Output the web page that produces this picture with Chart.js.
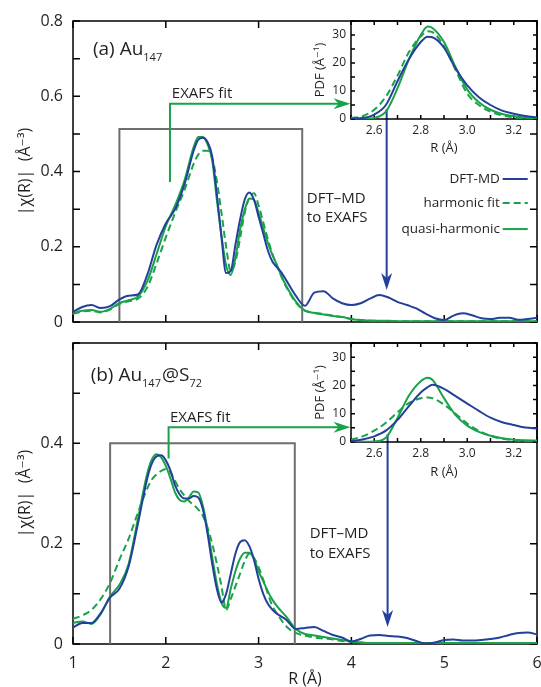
<!DOCTYPE html>
<html>
<head>
<meta charset="utf-8">
<script src="https://cdn.jsdelivr.net/npm/chart.js@4"></script>
<style>
  html, body { margin: 0; padding: 0; background: #fff; }
  #wrap { position: relative; width: 541px; height: 687px; overflow: hidden; background: #fff; }
  canvas { position: absolute; }
</style>
</head>
<body>
<div id="wrap">
  <canvas id="mainA" width="541" height="330" style="left:0;top:0"></canvas>
  <canvas id="insetA" width="236" height="150" style="left:305px;top:10px"></canvas>
  <canvas id="mainB" width="541" height="357" style="left:0;top:330px"></canvas>
  <canvas id="insetB" width="236" height="150" style="left:305px;top:332px"></canvas>
</div>
<script>
// --- data ---
// panel (a) Au147, |chi(R)|
const rA = [1.0,1.1,1.2,1.3,1.4,1.5,1.6,1.7,1.8,1.9,2.0,2.1,2.2,2.3,2.35,2.4,2.45,2.5,2.55,2.6,
  2.65,2.7,2.75,2.8,2.85,2.9,2.95,3.0,3.05,3.1,3.15,3.2,3.25,3.3,3.4,3.5,3.6,3.7,3.8,3.9,
  4.0,4.1,4.2,4.3,4.4,4.5,4.6,4.7,4.8,4.9,5.0,5.1,5.2,5.3,5.4,5.5,5.6,5.7,5.8,5.9,6.0];
const dftA = [0.027,0.040,0.045,0.037,0.042,0.060,0.070,0.073,0.125,0.205,0.262,0.300,0.365,0.455,0.485,0.490,0.478,0.440,0.340,0.225,
  0.130,0.135,0.205,0.272,0.325,0.344,0.325,0.280,0.235,0.190,0.160,0.145,0.130,0.110,0.070,0.043,0.078,0.082,0.063,0.050,
  0.045,0.050,0.062,0.072,0.065,0.053,0.045,0.036,0.022,0.010,0.005,0.017,0.023,0.018,0.010,0.008,0.011,0.011,0.006,0.008,0.011];
const harmA = [0.022,0.028,0.030,0.025,0.033,0.048,0.055,0.062,0.092,0.155,0.225,0.290,0.350,0.420,0.445,0.455,0.455,0.435,0.375,0.290,
  0.200,0.135,0.160,0.222,0.290,0.330,0.342,0.310,0.265,0.220,0.180,0.148,0.118,0.092,0.052,0.030,0.025,0.021,0.017,0.013,
  0.008,0.005,0.003,0.003,0.002,0.002,0.002,0.002,0.002,0.002,0.002,0.002,0.002,0.002,0.002,0.002,0.002,0.002,0.002,0.002,0.002];
const quasiA = [0.023,0.030,0.032,0.027,0.035,0.050,0.058,0.068,0.108,0.180,0.255,0.310,0.375,0.465,0.492,0.492,0.472,0.430,0.325,0.230,
  0.150,0.125,0.170,0.245,0.298,0.328,0.325,0.290,0.250,0.210,0.178,0.150,0.120,0.095,0.055,0.030,0.024,0.020,0.016,0.013,
  0.008,0.005,0.004,0.003,0.003,0.002,0.002,0.002,0.002,0.002,0.002,0.002,0.002,0.002,0.002,0.002,0.002,0.002,0.002,0.002,0.002];

// panel (b) Au147@S72, |chi(R)|
const rB = [1.0,1.1,1.2,1.3,1.4,1.5,1.6,1.7,1.8,1.85,1.9,1.95,2.0,2.05,2.1,2.15,2.2,2.25,2.3,2.35,
  2.4,2.45,2.5,2.55,2.6,2.65,2.7,2.75,2.8,2.85,2.9,2.95,3.0,3.05,3.1,3.15,3.2,3.3,3.4,3.5,
  3.6,3.7,3.8,3.9,4.0,4.1,4.2,4.3,4.4,4.5,4.6,4.7,4.8,4.9,5.0,5.1,5.2,5.3,5.4,5.5,5.6,5.7,5.8,5.9,6.0];
const dftB = [0.033,0.042,0.042,0.062,0.093,0.110,0.155,0.240,0.330,0.360,0.374,0.376,0.366,0.346,0.316,0.298,0.290,0.290,0.295,0.292,
  0.268,0.220,0.160,0.110,0.083,0.100,0.140,0.180,0.203,0.207,0.195,0.168,0.130,0.100,0.080,0.068,0.060,0.048,0.030,0.032,
  0.034,0.026,0.018,0.013,0.005,0.010,0.017,0.018,0.016,0.015,0.012,0.006,0.001,0.003,0.008,0.009,0.007,0.007,0.008,0.010,
  0.013,0.018,0.022,0.023,0.019];
const harmB = [0.050,0.057,0.068,0.090,0.122,0.168,0.210,0.262,0.310,0.328,0.338,0.345,0.349,0.342,0.325,0.308,0.296,0.285,0.277,0.268,
  0.255,0.232,0.200,0.160,0.115,0.068,0.090,0.115,0.140,0.165,0.180,0.172,0.153,0.128,0.100,0.075,0.060,0.035,0.022,0.017,
  0.013,0.011,0.009,0.006,0.004,0.003,0.002,0.002,0.002,0.002,0.002,0.002,0.002,0.002,0.002,0.002,0.002,0.002,0.002,0.002,
  0.002,0.002,0.002,0.002,0.002];
const quasiB = [0.042,0.045,0.040,0.060,0.095,0.118,0.160,0.250,0.340,0.368,0.378,0.372,0.355,0.330,0.302,0.287,0.284,0.292,0.304,0.302,
  0.275,0.228,0.173,0.120,0.082,0.072,0.110,0.145,0.170,0.182,0.182,0.170,0.145,0.125,0.105,0.088,0.075,0.054,0.030,0.020,
  0.017,0.014,0.011,0.008,0.005,0.003,0.002,0.002,0.002,0.002,0.002,0.002,0.002,0.002,0.002,0.002,0.002,0.002,0.002,0.002,
  0.002,0.002,0.002,0.002,0.002];

// insets: pair distribution functions
const rPdf = [2.5,2.55,2.6,2.65,2.7,2.75,2.8,2.83,2.85,2.9,2.95,3.0,3.05,3.1,3.15,3.2,3.25,3.3];
const pdfDftA = [0.1,0.35,1.6,5.0,13.5,21.5,27.5,29.4,29.2,25.5,18.0,12.0,7.8,5.0,3.0,1.9,1.1,0.6];
const pdfHarmA = [0.4,1.0,3.3,8.0,15.5,24.0,29.5,31.3,31.0,26.0,17.5,9.0,5.0,2.6,1.3,0.6,0.3,0.15];
const pdfQuasiA = [0.0,0.05,0.4,2.6,11.0,21.5,30.0,33.0,32.5,27.5,18.5,10.5,6.0,3.3,1.8,1.0,0.5,0.3];
const pdfDftB = [0.3,0.9,2.0,4.0,7.8,12.8,17.5,19.4,20.2,18.8,16.2,13.6,11.0,8.6,7.0,6.0,5.1,4.8];
const pdfHarmB = [0.8,2.0,4.0,6.8,10.5,13.8,15.5,15.7,15.5,13.2,10.0,6.5,4.0,2.2,1.2,0.6,0.3,0.15];
const pdfQuasiB = [0.0,0.05,0.2,1.5,8.5,16.5,21.5,22.7,22.0,15.5,9.5,5.8,3.6,2.2,1.3,0.8,0.6,0.5];

// tick labels shown on the inset R axis
const pdfXLabels = [2.6, 2.8, 3.0, 3.2];

const seriesNames = ['DFT-MD', 'harmonic fit', 'quasi-harmonic'];

const BLUE = '#23409a';
const GREEN = '#19a24a';
const GREY = '#6d6e71';
const INK = '#231f20';
const FONT = '"Open Sans", "DejaVu Sans", sans-serif';

const pts = (xs, ys) => xs.map((x, i) => ({ x, y: ys[i] }));

// inward ticks on all four sides + frame
const frameCfg = {
  mainA: { xStep: 1, yStep: 0.1, len: 7, skipTopFrom: 4, skipRightAbove: 0.54 },
  mainB: { xStep: 1, yStep: 0.1, len: 7, skipTopFrom: 4, skipRightAbove: 0.39 },
  insetA: { xStep: 0.1, yStep: 5, len: 4 },
  insetB: { xStep: 0.1, yStep: 5, len: 4 }
};

const framePlugin = {
  id: 'frame',
  beforeDatasetsDraw(chart) {
    const o = frameCfg[chart.canvas.id];
    const { ctx, chartArea: a, scales: { x, y } } = chart;
    ctx.save();
    ctx.strokeStyle = '#000';
    ctx.lineWidth = 1.5;
    ctx.beginPath();
    const nx = Math.round((x.max - x.min) / o.xStep);
    for (let i = 0; i <= nx; i++) {
      const v = x.min + i * o.xStep;
      const px = x.getPixelForValue(v);
      ctx.moveTo(px, a.bottom); ctx.lineTo(px, a.bottom - o.len);
      if (o.skipTopFrom === undefined || v < o.skipTopFrom - 1e-6) {
        ctx.moveTo(px, a.top); ctx.lineTo(px, a.top + o.len);
      }
    }
    const ny = Math.round((y.max - y.min) / o.yStep);
    for (let i = 0; i <= ny; i++) {
      const v = y.min + i * o.yStep;
      const py = y.getPixelForValue(v);
      ctx.moveTo(a.left, py); ctx.lineTo(a.left + o.len, py);
      if (o.skipRightAbove === undefined || v < o.skipRightAbove) {
        ctx.moveTo(a.right, py); ctx.lineTo(a.right - o.len, py);
      }
    }
    ctx.stroke();
    ctx.strokeRect(a.left, a.top, a.right - a.left, a.bottom - a.top);
    ctx.restore();
  }
};

// box, arrows, annotations, legend
const decorCfg = {
  mainA: {
    box: [1.5, 3.47, 0.513],
    fit: { x: 2.045, y0: 0.372, y1: 0.58, xEnd: 3.99 },
    fitText: { x: 2.065, y: 0.606 },
    md: { x: 4.38, y0: 0.566, y1: 0.085 },
    mdText: { x: 3.52, y: [0.327, 0.277] },
    legend: { x: 5.6, x0: 5.63, x1: 5.9, y: [0.380, 0.316, 0.247] },
    label: { x: 1.215, y: 0.71, runs: [['(a) Au', 19, 0], ['147', 11, 6]] }
  },
  mainB: {
    box: [1.4, 3.39, 0.40],
    fit: { x: 2.03, y0: 0.37, y1: 0.432, xEnd: 3.99 },
    fitText: { x: 2.045, y: 0.451 },
    md: { x: 4.39, y0: 0.418, y1: 0.034 },
    mdText: { x: 3.55, y: [0.22, 0.18] },
    label: { x: 1.19, y: 0.524, runs: [['(b) Au', 19, 0], ['147', 11, 6], ['@S', 19, 0], ['72', 11, 6]] }
  }
};

function arrowHead(ctx, tx, ty, dx, dy, len, half) {
  const nx = -dy, ny = dx;
  const bx = tx - dx * len, by = ty - dy * len;
  const notch = len * 0.3;
  ctx.beginPath();
  ctx.moveTo(tx, ty);
  ctx.lineTo(bx + nx * half, by + ny * half);
  ctx.lineTo(tx - dx * (len - notch), ty - dy * (len - notch));
  ctx.lineTo(bx - nx * half, by - ny * half);
  ctx.closePath();
  ctx.fill();
}

const decorPlugin = {
  id: 'decor',
  beforeDatasetsDraw(chart) {
    const o = decorCfg[chart.canvas.id];
    if (!o) return;
    const { ctx, scales: { x, y } } = chart;
    ctx.save();
    ctx.strokeStyle = GREY;
    ctx.lineWidth = 2;
    ctx.beginPath();
    ctx.moveTo(x.getPixelForValue(o.box[0]), y.getPixelForValue(0));
    ctx.lineTo(x.getPixelForValue(o.box[0]), y.getPixelForValue(o.box[2]));
    ctx.lineTo(x.getPixelForValue(o.box[1]), y.getPixelForValue(o.box[2]));
    ctx.lineTo(x.getPixelForValue(o.box[1]), y.getPixelForValue(0));
    ctx.stroke();
    ctx.restore();
  },
  afterDatasetsDraw(chart) {
    const o = decorCfg[chart.canvas.id];
    if (!o) return;
    const { ctx, scales: { x, y } } = chart;
    ctx.save();
    ctx.lineWidth = 2;

    // EXAFS fit arrow
    const fx = x.getPixelForValue(o.fit.x);
    const fy0 = y.getPixelForValue(o.fit.y0);
    const fy1 = y.getPixelForValue(o.fit.y1);
    const fxe = x.getPixelForValue(o.fit.xEnd);
    ctx.strokeStyle = GREEN; ctx.fillStyle = GREEN;
    ctx.beginPath();
    ctx.moveTo(fx, fy0); ctx.lineTo(fx, fy1); ctx.lineTo(fxe - 8, fy1);
    ctx.stroke();
    arrowHead(ctx, fxe, fy1, 1, 0, 17, 5.5);

    // DFT-MD to EXAFS arrow
    const mx = x.getPixelForValue(o.md.x);
    const my0 = y.getPixelForValue(o.md.y0);
    const my1 = y.getPixelForValue(o.md.y1);
    ctx.strokeStyle = BLUE; ctx.fillStyle = BLUE;
    ctx.beginPath();
    ctx.moveTo(mx, my0); ctx.lineTo(mx, my1 - 8);
    ctx.stroke();
    arrowHead(ctx, mx, my1, 0, 1, 17, 5.5);

    // texts
    ctx.fillStyle = INK;
    ctx.textBaseline = 'middle';
    ctx.textAlign = 'left';
    ctx.font = '15px ' + FONT;
    ctx.fillText('EXAFS fit', x.getPixelForValue(o.fitText.x), y.getPixelForValue(o.fitText.y));
    ctx.fillText('DFT\u2013MD', x.getPixelForValue(o.mdText.x), y.getPixelForValue(o.mdText.y[0]));
    ctx.fillText('to EXAFS', x.getPixelForValue(o.mdText.x), y.getPixelForValue(o.mdText.y[1]));

    // panel label with subscripts
    ctx.textBaseline = 'alphabetic';
    let lx = x.getPixelForValue(o.label.x);
    const ly = y.getPixelForValue(o.label.y);
    for (const [t, size, dy] of o.label.runs) {
      ctx.font = size + 'px ' + FONT;
      ctx.fillText(t, lx, ly + dy);
      lx += ctx.measureText(t).width + (size < 15 ? 1 : 0);
    }

    // legend
    if (o.legend) {
      const lg = o.legend;
      ctx.font = '13.5px ' + FONT;
      ctx.textAlign = 'right';
      ctx.textBaseline = 'middle';
      chart.data.datasets.forEach((ds, i) => {
        const py = y.getPixelForValue(lg.y[i]);
        ctx.fillStyle = INK;
        ctx.fillText(ds.label, x.getPixelForValue(lg.x), py);
        ctx.strokeStyle = ds.borderColor;
        ctx.setLineDash(ds.borderDash || []);
        ctx.beginPath();
        ctx.moveTo(x.getPixelForValue(lg.x0), py);
        ctx.lineTo(x.getPixelForValue(lg.x1), py);
        ctx.stroke();
      });
      ctx.setLineDash([]);
    }
    ctx.restore();
  }
};

function datasets(xs, dft, harm, quasi) {
  return [
    { label: seriesNames[0], data: pts(xs, dft), borderColor: BLUE },
    { label: seriesNames[1], data: pts(xs, harm), borderColor: GREEN, borderDash: [7, 4] },
    { label: seriesNames[2], data: pts(xs, quasi), borderColor: GREEN }
  ];
}

const common = {
  responsive: false,
  animation: false,
  devicePixelRatio: 1,
  elements: {
    point: { radius: 0 },
    line: { borderWidth: 2, cubicInterpolationMode: 'monotone', fill: false }
  },
  plugins: { legend: { display: false }, tooltip: { enabled: false } }
};

function mainChart(id, xs, dft, harm, quasi, opt) {
  return new Chart(document.getElementById(id), {
    type: 'line',
    data: { datasets: datasets(xs, dft, harm, quasi) },
    options: {
      ...common,
      layout: { padding: { left: 0, right: 4, top: opt.top, bottom: 0 } },
      scales: {
        x: {
          type: 'linear', min: 1, max: 6,
          grid: { display: false, drawTicks: false }, border: { display: false },
          ticks: { display: opt.xLabels, stepSize: 1, padding: 10, color: INK, font: { family: FONT, size: 16 } },
          title: { display: opt.xLabels, text: 'R (\u00C5)', color: INK, padding: { top: 0, bottom: 0 },
                   font: { family: FONT, size: 16, lineHeight: 1 } },
          afterFit(s) { s.height = opt.xh; s.paddingLeft = 0; s.paddingRight = 0; }
        },
        y: {
          type: 'linear', min: 0, max: opt.ymax,
          grid: { display: false, drawTicks: false }, border: { display: false },
          ticks: {
            stepSize: 0.2, padding: 10, color: INK, font: { family: FONT, size: 16 },
            callback: v => (v > opt.ylabelMax ? '' : (v === 0 ? '0' : (Math.round(v * 10) / 10).toFixed(1)))
          },
          title: { display: true, text: '|\u03C7(R)|  (\u00C5\u207B\u00B3)', color: INK, padding: { top: 16, bottom: 0 },
                   font: { family: FONT, size: 16 } },
          afterFit(s) { s.width = 73; s.paddingTop = 0; s.paddingBottom = 0; }
        }
      }
    },
    plugins: [framePlugin, decorPlugin]
  });
}

function insetChart(id, dft, harm, quasi, titlePad) {
  return new Chart(document.getElementById(id), {
    type: 'line',
    data: { datasets: datasets(rPdf, dft, harm, quasi) },
    options: {
      ...common,
      layout: { padding: { left: 0, right: 4, top: 11, bottom: 0 } },
      scales: {
        x: {
          type: 'linear', min: 2.5, max: 3.3,
          grid: { display: false, drawTicks: false }, border: { display: false },
          ticks: {
            stepSize: 0.1, autoSkip: false, maxRotation: 0, padding: 4, color: INK, font: { family: FONT, size: 12 },
            callback: v => (pdfXLabels.some(l => Math.abs(l - v) < 1e-6) ? v.toFixed(1) : '')
          },
          title: { display: true, text: 'R (\u00C5)', color: INK, padding: { top: 0, bottom: titlePad },
                   font: { family: FONT, size: 13 } },
          afterFit(s) { s.height = 150 - 11 - (id === 'insetA' ? 98 : 99); s.paddingLeft = 0; s.paddingRight = 0; }
        },
        y: {
          type: 'linear', min: 0, max: 35,
          grid: { display: false, drawTicks: false }, border: { display: false },
          ticks: { stepSize: 10, includeBounds: false, padding: 5, color: INK, font: { family: FONT, size: 12 } },
          title: { display: true, text: 'PDF (\u00C5\u207B\u00B9)', color: INK, padding: { top: 7, bottom: 0 },
                   font: { family: FONT, size: 13 } },
          afterFit(s) { s.width = 46; s.paddingTop = 0; s.paddingBottom = 0; }
        }
      }
    },
    plugins: [framePlugin]
  });
}

mainChart('mainA', rA, dftA, harmA, quasiA, { top: 21, xh: 8, ymax: 0.8, ylabelMax: 0.85, xLabels: false });
mainChart('mainB', rB, dftB, harmB, quasiB, { top: 13, xh: 43, ymax: 0.6, ylabelMax: 0.5, xLabels: true });
insetChart('insetA', pdfDftA, pdfHarmA, pdfQuasiA, 4);
insetChart('insetB', pdfDftB, pdfHarmB, pdfQuasiB, 2);
</script>
</body>
</html>
